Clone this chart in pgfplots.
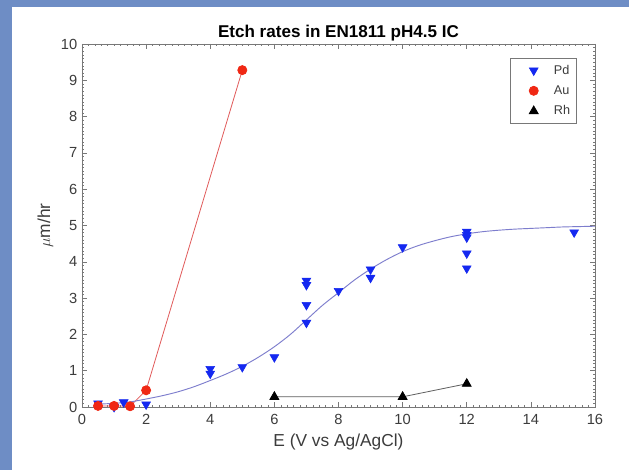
\documentclass[border=0pt]{standalone}
\usepackage{fontspec}
\setmainfont{Liberation Sans}
\usepackage{pgfplots}
\pgfplotsset{compat=1.18}

\definecolor{frameblue}{RGB}{110,141,197}
\definecolor{pdblue}{RGB}{20,40,240}
\definecolor{fitblue}{RGB}{125,125,205}
\definecolor{aured}{RGB}{240,40,20}
\definecolor{auline}{RGB}{225,90,90}
\definecolor{rhline}{RGB}{95,95,95}
\definecolor{axgray}{RGB}{120,120,120}
\definecolor{txtgray}{RGB}{60,60,60}

\begin{document}
\begin{tikzpicture}
% background: blue strip on left and top, as in the slide
\fill[frameblue] (-61.5pt,-47.25pt) rectangle (410.25pt,305.25pt);
\fill[white] (-52.5pt,-47.25pt) rectangle (410.25pt,300pt);
\useasboundingbox (-61.5pt,-47.25pt) rectangle (410.25pt,305.25pt);
\begin{axis}[
  at={(0,0)}, anchor=south west,
  scale only axis,
  width=384.75pt, height=272.25pt,
  xmin=0, xmax=16, ymin=0, ymax=10,
  xtick={0,2,...,16}, ytick={0,1,...,10},
  minor x tick num=9, minor y tick num=9,
  tick align=inside,
  major tick length=3.5pt, minor tick length=1.5pt,
  axis line style={axgray},
  every tick/.style={axgray, line width=0.4pt},
  tick label style={font=\fontsize{11}{13}\selectfont, text=txtgray},
  xticklabel style={yshift=-2pt},
  /pgf/number format/assume math mode=true,
  title={\textbf{Etch rates in EN1811 pH4.5 IC}},
  title style={font=\fontsize{12.8}{14}\selectfont, yshift=-7.5pt},
  xlabel={E (V vs Ag/AgCl)},
  ylabel={$\mu$m/hr},
  label style={font=\fontsize{13}{15}\selectfont, text=txtgray},
  ylabel style={yshift=-1pt},
  legend style={at={(1,1)}, anchor=north east, xshift=-13.5pt, yshift=-10.5pt,
    draw=axgray, font=\fontsize{9.5}{11}\selectfont, text=txtgray,
    row sep=3pt, inner xsep=3pt, inner ysep=3pt},
  legend cell align=left,
  legend image code/.code={%
    \path (0cm,0cm) (0.95cm,0cm);
    \draw[#1, only marks] plot coordinates {(0.5cm,0cm)};},
]
% Pd data
\addplot[only marks, mark=triangle*, mark size=3.8pt, pdblue,
  mark options={rotate=180, fill=pdblue, draw=pdblue}] coordinates {
  (0.5,0.10) (1.0,0.00) (1.3,0.13) (2.0,0.07)
  (4.0,1.05) (4.0,0.92) (5.0,1.10) (6.0,1.37)
  (7.0,3.48) (7.0,3.36) (7.0,2.81) (7.0,2.32)
  (8.0,3.20) (9.0,3.79) (9.0,3.56) (10.0,4.40)
  (12.0,4.83) (12.0,4.74) (12.0,4.67) (12.0,4.23) (12.0,3.82)
  (15.35,4.81)
};
\addlegendentry{Pd}
% Au data
\addplot[auline, line width=0.6pt, mark=*, mark size=3.4pt,
  mark options={fill=aured, draw=aured}] coordinates {
  (0.5,0.03) (1.0,0.03) (1.5,0.02) (2.0,0.46) (5.0,9.28)
};
\addlegendentry{Au}
% Rh data
\addplot[rhline, line width=0.6pt, mark=triangle*, mark size=3.8pt,
  mark options={fill=black, draw=black}] coordinates {
  (6.0,0.28) (10.0,0.28) (12.0,0.64)
};
\addlegendentry{Rh}
% Pd fit curve
\addplot[fitblue, line width=0.7pt, smooth, forget plot] coordinates {
  (0.5,0.08) (1.0,0.10) (1.5,0.14) (2.0,0.22) (2.5,0.31) (3.0,0.42)
  (3.5,0.56) (4.0,0.73) (4.5,0.91) (5.0,1.12) (5.5,1.37) (6.0,1.66)
  (6.5,2.00) (7.0,2.40) (7.5,2.80) (8.0,3.15) (8.5,3.50) (9.0,3.80)
  (9.5,4.06) (10.0,4.28) (10.5,4.45) (11.0,4.58) (11.5,4.69) (12.0,4.77)
  (12.5,4.83) (13.0,4.87) (13.5,4.90) (14.0,4.92) (14.5,4.94) (15.0,4.96)
  (15.5,4.97) (16.0,4.98)
};
\end{axis}
\end{tikzpicture}
\end{document}
